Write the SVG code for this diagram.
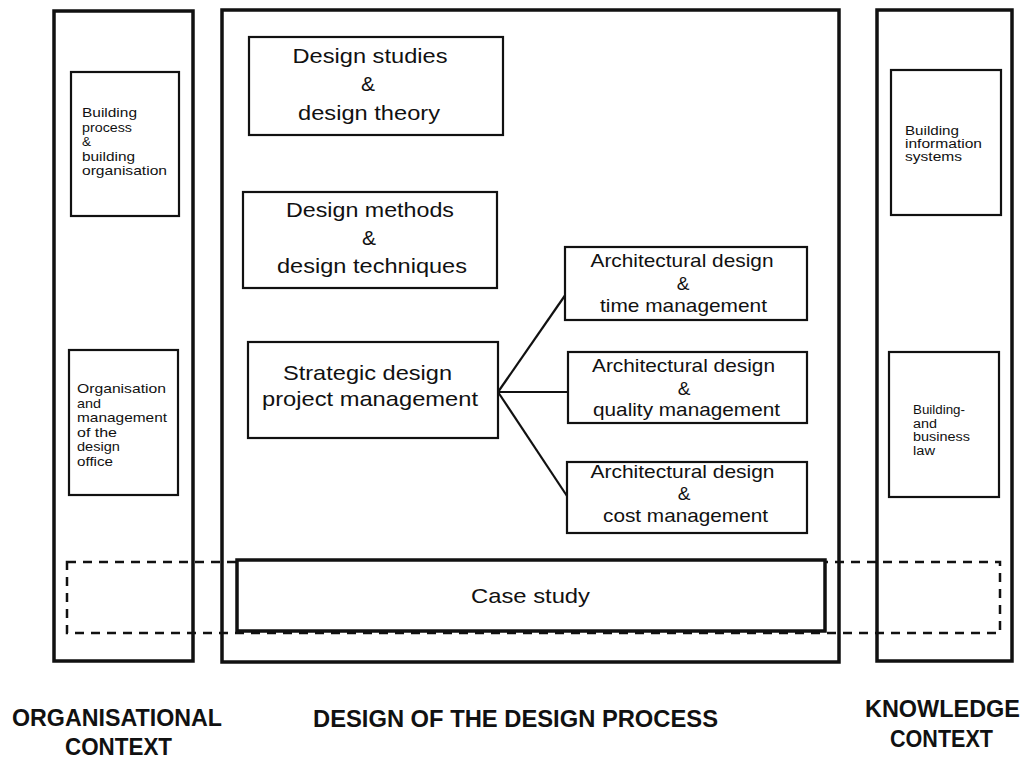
<svg xmlns="http://www.w3.org/2000/svg" width="1024" height="758" viewBox="0 0 1024 758">
<style>
.bg{fill:#ffffff}
.outer{fill:none;stroke:#111;stroke-width:3.5}
.box{fill:#ffffff;stroke:#111;stroke-width:2.2}
.case{fill:#ffffff;stroke:#111;stroke-width:3.5}
.dash{fill:none;stroke:#111;stroke-width:2.5;stroke-dasharray:9 7}
.conn{fill:none;stroke:#111;stroke-width:2.2}
text{font-family:"Liberation Sans",Arial,Helvetica,sans-serif;fill:#111}
.big{font-size:21px;text-anchor:middle}
.mid{font-size:19px;text-anchor:middle}
.sm{font-size:13.5px}
.smr{font-size:12.5px}
.lab{font-size:24px;font-weight:bold;text-anchor:middle}
</style>
<rect class="bg" x="0" y="0" width="1024" height="758"/>

<g id="case-band">
<rect class="dash" x="67" y="562" width="933" height="71"/>
</g>

<g id="organisational-context">
<rect class="outer" x="54" y="11" width="139" height="650"/>
</g>
<g id="design-process">
<rect class="outer" x="222" y="10" width="617" height="652"/>
</g>
<g id="knowledge-context">
<rect class="outer" x="877" y="10" width="135" height="651"/>
</g>

<g id="connectors">
<line class="conn" x1="498" y1="392" x2="566" y2="294"/>
<line class="conn" x1="498" y1="392" x2="568" y2="392"/>
<line class="conn" x1="498" y1="392" x2="567" y2="496"/>
</g>

<g id="building-process">
<rect class="box" x="71" y="72" width="108" height="144"/>
<text class="sm" x="82" y="117" textLength="55" lengthAdjust="spacingAndGlyphs">Building</text>
<text class="sm" x="82" y="131.5" textLength="50" lengthAdjust="spacingAndGlyphs">process</text>
<text class="sm" x="82" y="146">&amp;</text>
<text class="sm" x="82" y="160.5" textLength="53" lengthAdjust="spacingAndGlyphs">building</text>
<text class="sm" x="82" y="175" textLength="85" lengthAdjust="spacingAndGlyphs">organisation</text>
</g>

<g id="organisation-management">
<rect class="box" x="69" y="350" width="109" height="145"/>
<text class="sm" x="77" y="393" textLength="89" lengthAdjust="spacingAndGlyphs">Organisation</text>
<text class="sm" x="77" y="407.5" textLength="24" lengthAdjust="spacingAndGlyphs">and</text>
<text class="sm" x="77" y="422" textLength="90" lengthAdjust="spacingAndGlyphs">management</text>
<text class="sm" x="77" y="436.5" textLength="40" lengthAdjust="spacingAndGlyphs">of the</text>
<text class="sm" x="77" y="451" textLength="43" lengthAdjust="spacingAndGlyphs">design</text>
<text class="sm" x="77" y="465.5" textLength="36" lengthAdjust="spacingAndGlyphs">office</text>
</g>

<g id="building-information">
<rect class="box" x="891" y="70" width="110" height="145"/>
<text class="smr" x="905" y="135" textLength="54" lengthAdjust="spacingAndGlyphs">Building</text>
<text class="smr" x="905" y="148" textLength="77" lengthAdjust="spacingAndGlyphs">information</text>
<text class="smr" x="905" y="161" textLength="57" lengthAdjust="spacingAndGlyphs">systems</text>
</g>

<g id="building-law">
<rect class="box" x="889" y="352" width="110" height="145"/>
<text class="smr" x="913" y="414" textLength="52" lengthAdjust="spacingAndGlyphs">Building-</text>
<text class="smr" x="913" y="427.5" textLength="24" lengthAdjust="spacingAndGlyphs">and</text>
<text class="smr" x="913" y="441" textLength="57" lengthAdjust="spacingAndGlyphs">business</text>
<text class="smr" x="913" y="454.5" textLength="22" lengthAdjust="spacingAndGlyphs">law</text>
</g>

<g id="design-studies">
<rect class="box" x="249" y="37" width="254" height="98"/>
<text class="big" x="370" y="63" textLength="155" lengthAdjust="spacingAndGlyphs">Design studies</text>
<text class="big" x="368" y="91">&amp;</text>
<text class="big" x="369" y="120" textLength="142" lengthAdjust="spacingAndGlyphs">design theory</text>
</g>

<g id="design-methods">
<rect class="box" x="243" y="192" width="254" height="96"/>
<text class="big" x="370" y="217" textLength="168" lengthAdjust="spacingAndGlyphs">Design methods</text>
<text class="big" x="369" y="245">&amp;</text>
<text class="big" x="372" y="273" textLength="190" lengthAdjust="spacingAndGlyphs">design techniques</text>
</g>

<g id="strategic-design">
<rect class="box" x="248" y="342" width="250" height="96"/>
<text class="big" x="367.5" y="380" textLength="169" lengthAdjust="spacingAndGlyphs">Strategic design</text>
<text class="big" x="370" y="406" textLength="216" lengthAdjust="spacingAndGlyphs">project management</text>
</g>

<g id="time-management">
<rect class="box" x="565" y="247" width="242" height="73"/>
<text class="mid" x="682" y="267" textLength="183" lengthAdjust="spacingAndGlyphs">Architectural design</text>
<text class="mid" x="683" y="290">&amp;</text>
<text class="mid" x="683.5" y="312" textLength="167" lengthAdjust="spacingAndGlyphs">time management</text>
</g>

<g id="quality-management">
<rect class="box" x="568" y="352" width="239" height="71"/>
<text class="mid" x="683.5" y="372" textLength="183" lengthAdjust="spacingAndGlyphs">Architectural design</text>
<text class="mid" x="684" y="395">&amp;</text>
<text class="mid" x="686.5" y="416" textLength="187" lengthAdjust="spacingAndGlyphs">quality management</text>
</g>

<g id="cost-management">
<rect class="box" x="567" y="462" width="240" height="71"/>
<text class="mid" x="682.5" y="478" textLength="184" lengthAdjust="spacingAndGlyphs">Architectural design</text>
<text class="mid" x="684" y="500">&amp;</text>
<text class="mid" x="685.5" y="522" textLength="165" lengthAdjust="spacingAndGlyphs">cost management</text>
</g>

<g id="case-study">
<rect class="case" x="237" y="560" width="588" height="71"/>
<text class="big" x="530.5" y="603" textLength="119" lengthAdjust="spacingAndGlyphs">Case study</text>
</g>

<g id="labels">
<text class="lab" x="117" y="726" textLength="210" lengthAdjust="spacingAndGlyphs">ORGANISATIONAL</text>
<text class="lab" x="118.5" y="755" textLength="107" lengthAdjust="spacingAndGlyphs">CONTEXT</text>
<text class="lab" x="515.5" y="727" textLength="405" lengthAdjust="spacingAndGlyphs">DESIGN OF THE DESIGN PROCESS</text>
<text class="lab" x="942.5" y="717" textLength="155" lengthAdjust="spacingAndGlyphs">KNOWLEDGE</text>
<text class="lab" x="941.5" y="747" textLength="103" lengthAdjust="spacingAndGlyphs">CONTEXT</text>
</g>
</svg>
